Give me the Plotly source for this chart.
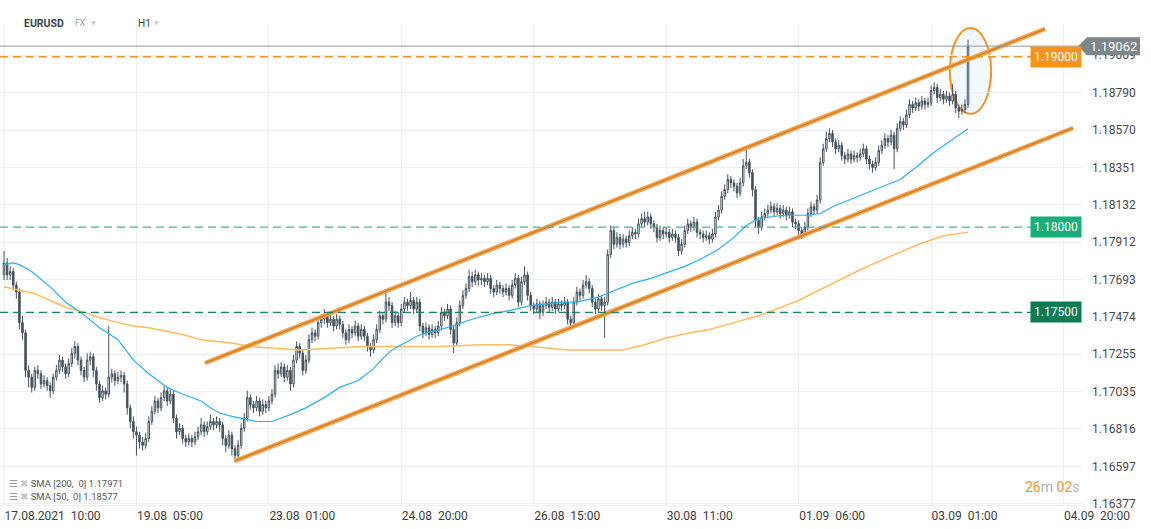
import plotly.graph_objects as go

# ---------------- data ----------------
closes = [
1.1779,1.1772,1.1774,1.1766,1.1762,1.1744,1.1738,1.1716,1.1712,1.1706,
1.1716,1.1714,1.1708,1.1710,1.1707,1.1704,1.1712,1.1716,1.1722,1.1718,
1.1714,1.1720,1.1726,1.1730,1.1722,1.1716,1.1712,1.1722,1.1724,1.1716,
1.1708,1.1700,1.1704,1.1702,1.1712,1.1714,1.1710,1.1712,1.1713,1.1708,
1.1694,1.1686,1.1680,1.1678,1.1674,1.1672,1.1676,1.1686,1.1692,1.1698,
1.1694,1.1700,1.1704,1.1698,1.1702,1.1688,1.1680,1.1682,1.1676,1.1674,
1.1676,1.1674,1.1677,1.1680,1.1684,1.1680,1.1683,1.1686,1.1684,1.1686,
1.1684,1.1676,1.1672,1.1678,1.1670,1.1666,1.1672,1.1682,1.1688,1.1700,
1.1696,1.1694,1.1698,1.1692,1.1696,1.1694,1.1698,1.1702,1.1716,1.1714,
1.1718,1.1712,1.1716,1.1708,1.1722,1.1730,1.1726,1.1716,1.1722,1.1734,
1.1738,1.1736,1.1744,1.1746,1.1748,1.1744,1.1746,1.1742,1.1746,1.1743,
1.1738,1.1734,1.1740,1.1738,1.1742,1.1736,1.1740,1.1736,1.1730,1.1728,
1.1734,1.1740,1.1748,1.1746,1.1756,1.1754,1.1744,1.1748,1.1744,1.1752,
1.1756,1.1754,1.1757,1.1752,1.1756,1.1742,1.1738,1.1741,1.1737,1.1740,
1.1738,1.1742,1.1750,1.1748,1.1752,1.1740,1.1732,1.1744,1.1754,1.1760,
1.1764,1.1771,1.1768,1.1772,1.1769,1.1770,1.1768,1.1770,1.1764,1.1762,
1.1766,1.1764,1.1762,1.1764,1.1760,1.1766,1.1770,1.1756,1.1768,1.1772,
1.1760,1.1754,1.1752,1.1755,1.1750,1.1754,1.1756,1.1753,1.1756,1.1752,
1.1755,1.1754,1.1756,1.1746,1.1744,1.1756,1.1762,1.1760,1.1766,1.1768,
1.1764,1.1756,1.1752,1.1758,1.1754,1.1756,1.1784,1.1798,1.1790,1.1794,
1.1790,1.1793,1.1791,1.1795,1.1797,1.1796,1.1802,1.1805,1.1803,1.1806,
1.1802,1.1800,1.1794,1.1798,1.1796,1.1797,1.1794,1.1796,1.1794,1.1786,
1.1790,1.1798,1.1802,1.1800,1.1803,1.1797,1.1796,1.1794,1.1795,1.1793,
1.1796,1.1806,1.1810,1.1818,1.1822,1.1828,1.1826,1.1824,1.1820,1.1826,
1.1836,1.1838,1.1832,1.1822,1.1804,1.1800,1.1806,1.1808,1.1810,1.1812,
1.1809,1.1811,1.1808,1.1810,1.1807,1.1809,1.1803,1.1802,1.1798,1.1796,
1.1800,1.1808,1.1812,1.1810,1.1816,1.1838,1.1846,1.1852,1.1855,1.1850,
1.1846,1.1848,1.1842,1.1840,1.1843,1.1840,1.1842,1.1841,1.1843,1.1846,
1.1840,1.1837,1.1835,1.1838,1.1845,1.1848,1.1852,1.1850,1.1854,1.1846,
1.1858,1.1862,1.1860,1.1866,1.1872,1.1870,1.1873,1.1871,1.1874,1.1872,
1.1873,1.1880,1.1882,1.1876,1.1878,1.1875,1.1877,1.1874,1.1878,1.1870,
1.1868,1.1869,1.1872,1.19062]

highs = [
1.1786,1.1782,1.1777,1.1776,1.1768,1.1764,1.1748,1.1740,1.1719,1.1714,
1.1718,1.1719,1.1716,1.1713,1.1712,1.1709,1.1714,1.1719,1.1725,1.1724,
1.1720,1.1723,1.1729,1.1733,1.1732,1.1724,1.1718,1.1726,1.1727,1.1726,
1.1718,1.1710,1.1707,1.1706,1.1742,1.1717,1.1716,1.1715,1.1716,1.1715,
1.1710,1.1696,1.1689,1.1683,1.1680,1.1677,1.1679,1.1689,1.1695,1.1701,
1.1700,1.1703,1.1707,1.1706,1.1705,1.1704,1.1690,1.1685,1.1684,1.1678,
1.1679,1.1678,1.1680,1.1683,1.1688,1.1686,1.1686,1.1690,1.1688,1.1689,
1.1688,1.1686,1.1678,1.1681,1.1680,1.1672,1.1675,1.1685,1.1691,1.1704,
1.1702,1.1698,1.1701,1.1700,1.1699,1.1698,1.1701,1.1705,1.1719,1.1720,
1.1721,1.1720,1.1719,1.1718,1.1725,1.1733,1.1732,1.1728,1.1725,1.1737,
1.1741,1.1740,1.1747,1.1749,1.1752,1.1750,1.1749,1.1748,1.1749,1.1748,
1.1745,1.1740,1.1743,1.1742,1.1745,1.1744,1.1743,1.1742,1.1738,1.1732,
1.1737,1.1743,1.1751,1.1750,1.1763,1.1759,1.1756,1.1751,1.1750,1.1755,
1.1759,1.1758,1.1762,1.1759,1.1759,1.1758,1.1744,1.1744,1.1743,1.1743,
1.1742,1.1745,1.1753,1.1752,1.1755,1.1754,1.1742,1.1747,1.1757,1.1763,
1.1767,1.1775,1.1774,1.1775,1.1774,1.1773,1.1772,1.1773,1.1772,1.1766,
1.1769,1.1768,1.1766,1.1767,1.1766,1.1769,1.1773,1.1772,1.1771,1.1777,
1.1774,1.1762,1.1756,1.1758,1.1757,1.1757,1.1759,1.1758,1.1759,1.1758,
1.1758,1.1757,1.1759,1.1758,1.1748,1.1759,1.1765,1.1764,1.1769,1.1772,
1.1770,1.1766,1.1758,1.1761,1.1760,1.1759,1.1787,1.1801,1.1800,1.1797,
1.1796,1.1796,1.1795,1.1798,1.1800,1.1799,1.1805,1.1808,1.1809,1.1809,
1.1808,1.1804,1.1802,1.1801,1.1800,1.1800,1.1799,1.1799,1.1798,1.1796,
1.1793,1.1801,1.1805,1.1804,1.1806,1.1805,1.1799,1.1798,1.1798,1.1797,
1.1799,1.1809,1.1813,1.1821,1.1825,1.1831,1.1830,1.1828,1.1826,1.1829,
1.1840,1.1846,1.1840,1.1834,1.1824,1.1806,1.1809,1.1811,1.1813,1.1815,
1.1814,1.1814,1.1813,1.1813,1.1812,1.1812,1.1811,1.1805,1.1804,1.1800,
1.1803,1.1811,1.1815,1.1814,1.1819,1.1841,1.1849,1.1856,1.1858,1.1857,
1.1852,1.1851,1.1850,1.1844,1.1846,1.1845,1.1845,1.1844,1.1846,1.1849,
1.1848,1.1842,1.1839,1.1841,1.1848,1.1851,1.1855,1.1854,1.1857,1.1856,
1.1861,1.1865,1.1864,1.1869,1.1875,1.1874,1.1876,1.1875,1.1877,1.1876,
1.1876,1.1883,1.1885,1.1884,1.1881,1.1880,1.1880,1.1879,1.1884,1.1880,
1.1872,1.1872,1.1875,1.1910]

lows = [
1.1769,1.1769,1.1769,1.1763,1.1758,1.1740,1.1734,1.1712,1.1706,1.1703,
1.1704,1.1711,1.1705,1.1706,1.1704,1.1700,1.1702,1.1710,1.1714,1.1715,
1.1711,1.1712,1.1718,1.1723,1.1719,1.1713,1.1709,1.1710,1.1719,1.1712,
1.1704,1.1697,1.1698,1.1699,1.1700,1.1709,1.1707,1.1708,1.1709,1.1703,
1.1690,1.1682,1.1676,1.1666,1.1670,1.1669,1.1670,1.1674,1.1684,1.1690,
1.1691,1.1692,1.1698,1.1695,1.1696,1.1685,1.1676,1.1678,1.1673,1.1671,
1.1672,1.1671,1.1672,1.1675,1.1678,1.1677,1.1678,1.1681,1.1681,1.1682,
1.1680,1.1672,1.1668,1.1670,1.1666,1.1662,1.1664,1.1670,1.1680,1.1686,
1.1693,1.1691,1.1692,1.1689,1.1690,1.1691,1.1692,1.1696,1.1700,1.1711,
1.1712,1.1709,1.1710,1.1704,1.1706,1.1720,1.1723,1.1713,1.1714,1.1720,
1.1732,1.1733,1.1734,1.1741,1.1743,1.1741,1.1742,1.1739,1.1740,1.1740,
1.1735,1.1731,1.1732,1.1735,1.1736,1.1733,1.1734,1.1733,1.1727,1.1724,
1.1726,1.1732,1.1738,1.1743,1.1744,1.1751,1.1741,1.1742,1.1741,1.1742,
1.1750,1.1751,1.1752,1.1749,1.1750,1.1739,1.1735,1.1736,1.1734,1.1735,
1.1735,1.1736,1.1740,1.1745,1.1746,1.1737,1.1726,1.1730,1.1742,1.1752,
1.1758,1.1762,1.1765,1.1766,1.1766,1.1766,1.1765,1.1766,1.1761,1.1759,
1.1760,1.1761,1.1759,1.1760,1.1757,1.1758,1.1764,1.1753,1.1754,1.1766,
1.1757,1.1751,1.1749,1.1750,1.1746,1.1748,1.1752,1.1750,1.1751,1.1749,
1.1750,1.1751,1.1752,1.1743,1.1741,1.1742,1.1754,1.1757,1.1758,1.1764,
1.1761,1.1753,1.1749,1.1750,1.1751,1.1735,1.1754,1.1782,1.1787,1.1788,
1.1787,1.1788,1.1788,1.1789,1.1793,1.1793,1.1794,1.1800,1.1800,1.1801,
1.1799,1.1797,1.1791,1.1792,1.1793,1.1794,1.1791,1.1792,1.1791,1.1783,
1.1784,1.1788,1.1796,1.1797,1.1798,1.1794,1.1793,1.1791,1.1792,1.1790,
1.1791,1.1794,1.1804,1.1808,1.1816,1.1820,1.1823,1.1821,1.1817,1.1818,
1.1824,1.1834,1.1829,1.1818,1.1800,1.1796,1.1798,1.1804,1.1806,1.1808,
1.1806,1.1807,1.1805,1.1806,1.1804,1.1805,1.1800,1.1799,1.1795,1.1793,
1.1794,1.1798,1.1806,1.1807,1.1808,1.1814,1.1836,1.1844,1.1850,1.1847,
1.1843,1.1844,1.1839,1.1837,1.1838,1.1837,1.1838,1.1838,1.1839,1.1841,
1.1837,1.1834,1.1832,1.1833,1.1836,1.1843,1.1846,1.1847,1.1848,1.1834,
1.1844,1.1856,1.1857,1.1858,1.1864,1.1867,1.1868,1.1868,1.1869,1.1869,
1.1870,1.1871,1.1878,1.1873,1.1874,1.1872,1.1873,1.1871,1.1872,1.1867,
1.1864,1.1866,1.1867,1.1870]

first_open = 1.1772
opens = [first_open] + closes[:-1]

# SMA 50 (blue) read points: bar index, value
sma50_x = [0,3,5,9,15,20,25,31,37,42,47,53,58,64,67,70,74,77,82,87,93,98,104,
           109,115,120,123,126,130,134,137,142,147,152,158,164,171,181,186,193,
           197,204,210,215,221,226,232,237,241,245,253,261,265,269,277,284,291,
           296,302,307,313]
sma50_y = [1.1778,1.1779,1.1778,1.1774,1.1765,1.1756,1.1750,1.1741,1.1734,1.1722,
           1.1714,1.1706,1.1702,1.1698,1.1694,1.1691,1.1689,1.1688,1.1686,1.1686,
           1.1690,1.1694,1.1700,1.1706,1.1710,1.1717,1.1723,1.1728,1.1732,1.1736,
           1.1738,1.1740,1.1743,1.1746,1.1749,1.1751,1.1754,1.1756,1.1756,1.1759,
           1.1762,1.1767,1.1770,1.1773,1.1777,1.1781,1.1787,1.1794,1.1801,1.1805,
           1.1807,1.1807,1.1808,1.1812,1.1818,1.1823,1.1828,1.1835,1.1844,1.1850,
           1.18577]

# SMA 200 (orange) read points
sma200_x = [0,10,15,20,26,31,37,42,47,53,58,64,74,80,87,96,106,116,128,141,155,
            164,171,183,193,201,208,215,223,229,237,245,258,268,278,288,297,305,313]
sma200_y = [1.1765,1.1761,1.1757,1.1753,1.1750,1.1747,1.1744,1.1742,1.1741,1.1739,
            1.1737,1.1734,1.1732,1.1730,1.1729,1.1728,1.1729,1.1730,1.1730,1.1730,
            1.1731,1.1731,1.1730,1.1728,1.1728,1.1728,1.1731,1.1735,1.1738,1.1740,
            1.1744,1.1748,1.1757,1.1766,1.1775,1.1783,1.1790,1.1795,1.17971]

# channel trend lines (bar index, price)
upper_x = [65.3, 338.0]
upper_y = [1.17203, 1.19163]
lower_x = [75.0, 347.1]
lower_y = [1.16628, 1.18582]

# highlighted ellipse (bar index / price extents)
ell_x = [307.1, 320.5]
ell_y = [1.18664, 1.19168]

# price levels
last_price = 1.19062
levels = [1.19000, 1.18000, 1.17500]
level_labels = ["1.19000", "1.18000", "1.17500"]

# axes
x_tickvals = [0, 43, 86, 129, 172, 215, 258, 301, 344]
x_ticktext = ["17.08.2021\u00a0\u00a010:00", "19.08\u00a0\u00a005:00", "23.08\u00a0\u00a001:00",
              "24.08\u00a0\u00a020:00", "26.08\u00a0\u00a015:00", "30.08\u00a0\u00a011:00",
              "01.09\u00a0\u00a006:00", "03.09\u00a0\u00a001:00", "04.09\u00a0\u00a020:00"]
y_tickvals = [1.16377, 1.16597, 1.16816, 1.17035, 1.17255, 1.17474, 1.17693,
              1.17912, 1.18132, 1.18351, 1.18570, 1.18790, 1.19009]
y_ticktext = ["%.5f" % v for v in y_tickvals]

x_range = [-1.3, 350.0]
y_range = [1.16370, 1.19192]

# ---------------- figure ----------------
W, H = 1151, 529
ML, MR, MT, MB = 0, 69, 24, 24
plot_h = H - MT - MB
plot_w = W - ML - MR

def py(ypx):
    return (H - MB - ypx) / plot_h

def px(xpx):
    return (xpx - ML) / plot_w

FONT = "Roboto"
candle_col = "#44535e"

fig = go.Figure()

fig.add_trace(go.Scatter(x=sma200_x, y=sma200_y, mode="lines",
                         line=dict(color="#ffbb5c", width=1.5), hoverinfo="skip"))
fig.add_trace(go.Scatter(x=sma50_x, y=sma50_y, mode="lines",
                         line=dict(color="#29b0f0", width=1.2), hoverinfo="skip"))

fig.add_trace(go.Candlestick(
    x=list(range(len(closes))), open=opens, high=highs, low=lows, close=closes,
    increasing=dict(line=dict(color=candle_col, width=1), fillcolor="#ffffff"),
    decreasing=dict(line=dict(color=candle_col, width=1), fillcolor=candle_col),
    whiskerwidth=0, hoverinfo="skip"))

for xs, ys in [(upper_x, upper_y), (lower_x, lower_y)]:
    fig.add_trace(go.Scatter(x=xs, y=ys, mode="lines",
                             line=dict(color="#f2a552", width=4.5), hoverinfo="skip"))
    fig.add_trace(go.Scatter(x=xs, y=ys, mode="lines",
                             line=dict(color="#d98026", width=1.6), hoverinfo="skip"))

shapes = []
# ellipse
shapes.append(dict(type="circle", xref="x", yref="y", x0=ell_x[0], x1=ell_x[1],
                   y0=ell_y[0], y1=ell_y[1], line=dict(color="#f7931e", width=2),
                   fillcolor="rgba(232,245,253,0.6)", layer="below"))
# last price line
shapes.append(dict(type="line", xref="paper", yref="y", x0=0, x1=1, y0=last_price,
                   y1=last_price, line=dict(color="#8c979c", width=1)))
level_line_cols = ["#f7931e", "#3dbb90", "#16855c"]
level_box_cols = ["#f7931e", "#17b07b", "#0e7c53"]
for lv, lc in zip(levels, level_line_cols):
    shapes.append(dict(type="line", xref="paper", yref="y", x0=0, x1=px(1033),
                       y0=lv, y1=lv, line=dict(color=lc, width=1.3, dash="8px,5px")))
# grey price tag
d = (y_range[1] - y_range[0]) / plot_h * 9
tag_path = ("M %f,%f L %f,%f L %f,%f L %f,%f L %f,%f Z" % (
    px(1078), last_price, px(1087), last_price + d, px(1140), last_price + d,
    px(1140), last_price - d, px(1087), last_price - d))
shapes.append(dict(type="path", xref="paper", yref="y", path=tag_path,
                   fillcolor="#7c878c", line=dict(width=0)))

annotations = []
for lv, lab, bc in zip(levels, level_labels, level_box_cols):
    annotations.append(dict(xref="paper", yref="y", x=1.0, y=lv, xanchor="right",
                            yanchor="middle", text=lab, showarrow=False,
                            bgcolor=bc, borderpad=3,
                            font=dict(family=FONT, size=12, color="white")))
annotations.append(dict(xref="paper", yref="y", x=px(1113), y=last_price,
                        xanchor="center", yanchor="middle", text="1.19062",
                        showarrow=False, font=dict(family=FONT, size=13, color="white")))
# header
annotations += [
    dict(xref="paper", yref="paper", x=px(22), y=py(23), xanchor="left", yanchor="middle",
         text="<b>EURUSD</b>", showarrow=False, font=dict(family=FONT, size=10.5, color="#3c4449")),
    dict(xref="paper", yref="paper", x=px(73), y=py(23), xanchor="left", yanchor="middle",
         text="FX", showarrow=False, font=dict(family=FONT, size=8.5, color="#8a9aa6")),
    dict(xref="paper", yref="paper", x=px(89), y=py(22), xanchor="left", yanchor="middle",
         text="▼", showarrow=False, font=dict(family="DejaVu Sans", size=6, color="#c8cdd0")),
    dict(xref="paper", yref="paper", x=px(136), y=py(23), xanchor="left", yanchor="middle",
         text="H1", showarrow=False, font=dict(family=FONT, size=10, color="#3c4449")),
    dict(xref="paper", yref="paper", x=px(152), y=py(22), xanchor="left", yanchor="middle",
         text="▼", showarrow=False, font=dict(family="DejaVu Sans", size=6, color="#c8cdd0")),
]
# indicator legend
for ypix, txt in [(483, "SMA [200,\u00a0\u00a00] 1.17971"), (496, "SMA [50,\u00a0\u00a00] 1.18577")]:
    annotations.append(dict(xref="paper", yref="paper", x=px(7), y=py(ypix), xanchor="left",
                            yanchor="middle", showarrow=False,
                            text="<span style='color:#9a9a9a'>☰</span> <span style='color:#c4c4c4'>✖</span> " + txt,
                            font=dict(family=FONT, size=9.5, color="#555555")))
# countdown
annotations.append(dict(xref="paper", yref="paper", x=1.0, y=py(487), xanchor="right",
                        yanchor="middle", showarrow=False,
                        text="<span style='color:#f7931e'>26</span><span style='color:#b0b0b0'>m</span> "
                             "<span style='color:#f7931e'>02</span><span style='color:#b8b8b8'>s</span>",
                        font=dict(family=FONT, size=14)))

fig.update_layout(
    width=W, height=H, margin=dict(l=ML, r=MR, t=MT, b=MB),
    paper_bgcolor="white", plot_bgcolor="white", showlegend=False,
    shapes=shapes, annotations=annotations,
    xaxis=dict(range=x_range, tickvals=x_tickvals, ticktext=x_ticktext,
               ticklabelposition="outside right", showgrid=True, gridcolor="#efefef",
               zeroline=False, showline=True, linecolor="#eeeeee", ticks="",
               tickfont=dict(family=FONT, size=12, color="#3d3d3d"),
               rangeslider=dict(visible=False), fixedrange=True),
    yaxis=dict(range=y_range, side="right", tickvals=y_tickvals, ticktext=y_ticktext,
               showgrid=True, gridcolor="#efefef", zeroline=False, ticks="",
               ticklabelstandoff=9,
               tickfont=dict(family=FONT, size=12, color="#4a4a4a"), fixedrange=True),
)

fig.write_html("out.html", config={"displayModeBar": False},
               post_script="document.body.style.margin='0';document.body.style.overflow='hidden';")
